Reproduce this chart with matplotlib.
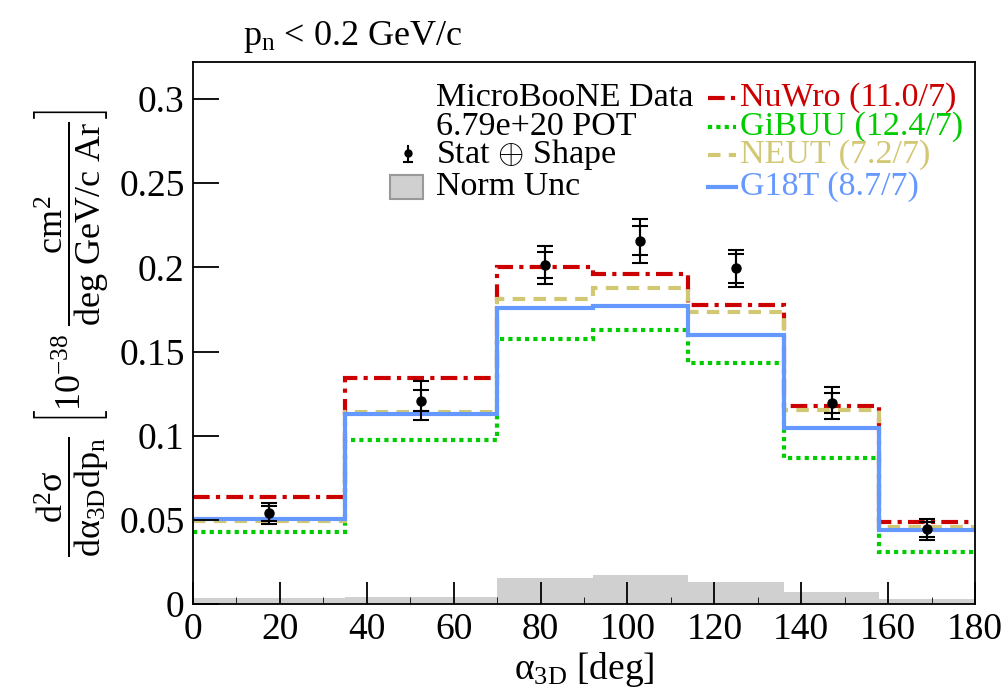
import numpy as np
import matplotlib
matplotlib.use('Agg')
import matplotlib.pyplot as plt
from matplotlib.patches import Rectangle

plt.rcParams['font.family'] = ['Liberation Serif', 'DejaVu Serif']
plt.rcParams['mathtext.fontset'] = 'custom'
plt.rcParams['mathtext.rm'] = 'Liberation Serif'
plt.rcParams['mathtext.it'] = 'Liberation Serif:italic'
plt.rcParams['mathtext.default'] = 'rm'

# bin edges in alpha_3D [deg]
edges = [0, 35, 70, 92, 114, 136, 158, 180]
centers = [17.5, 52.5, 81, 103, 125, 147, 169]

data = [0.0539, 0.1208, 0.2014, 0.2158, 0.1994, 0.1194, 0.0444]
err_total = [0.0063, 0.0115, 0.0111, 0.0130, 0.0109, 0.0095, 0.0064]
err_stat = [0.0045, 0.0061, 0.0075, 0.0086, 0.0084, 0.0060, 0.0045]
norm_unc = [0.0037, 0.0043, 0.0157, 0.0171, 0.0131, 0.0073, 0.0031]

nuwro = [0.0638, 0.1340, 0.2000, 0.1960, 0.1776, 0.1176, 0.0486]
gibuu = [0.0426, 0.0974, 0.1574, 0.1626, 0.1430, 0.0867, 0.0311]
neut = [0.0492, 0.1140, 0.1812, 0.1875, 0.1737, 0.1153, 0.0460]
g18t = [0.0505, 0.1129, 0.1760, 0.1768, 0.1598, 0.1046, 0.0440]

models = [
    ('NuWro (11.0/7)', nuwro, '#cc0000', (0, (4, 1.5, 1, 1.5))),
    ('GiBUU (12.4/7)', gibuu, '#00cc00', (0, (1, 1))),
    ('NEUT (7.2/7)', neut, '#d2c874', (0, (3, 2))),
    ('G18T (8.7/7)', g18t, '#6699ff', '-'),
]

fig = plt.figure(figsize=(10.07, 6.97), dpi=100)
ax = fig.add_axes([0.1917, 0.1334, 0.7765, 0.7776])

ax.stairs(norm_unc, edges, fill=True, color='#d0d0d0', lw=0)

for name, vals, col, ls in models:
    ax.stairs(vals, edges, color=col, lw=3, linestyle=ls, baseline=None)

ax.errorbar(centers, data, yerr=err_total, fmt='o', color='black', ms=6.5,
            elinewidth=1.5, capsize=6, capthick=1.5, zorder=5)
ax.errorbar(centers, data, yerr=err_stat, fmt='none', ecolor='black',
            elinewidth=1.5, capsize=6, capthick=1.5, zorder=5)

ax.set_xlim(0, 180)
ax.set_ylim(0, 0.322)
ax.set_xticks(np.arange(0, 181, 20))
ax.set_xticks(np.arange(0, 181, 10), minor=True)
ax.set_yticks([0, 0.05, 0.1, 0.15, 0.2, 0.25, 0.3])
ax.set_yticklabels(['0', '0.05', '0.1', '0.15', '0.2', '0.25', '0.3'])
ax.tick_params(axis='both', which='major', direction='in', labelsize=27,
               top=False, right=False, width=1.3)
ax.tick_params(axis='x', which='major', length=16, pad=6)
ax.tick_params(axis='y', which='major', length=19, pad=6)
ax.tick_params(axis='x', which='minor', direction='in', length=5, top=False)
for s in ax.spines.values():
    s.set_linewidth(1.3)

ax.set_xlabel(r'$\alpha_{3D}$ [deg]', fontsize=27, labelpad=2)
ax.set_ylabel(r'$\dfrac{\mathrm{d}^2\sigma}{\mathrm{d}\alpha_{3D}\mathrm{dp}_n}\ '
              r'\left[10^{-38}\ \dfrac{\mathrm{cm}^2}{\mathrm{deg\ GeV/c\ Ar}}\right]$',
              fontsize=26, labelpad=6)

fig.text(243 / 1007, 1 - 45 / 697, r'p$_n$ < 0.2 GeV/c', fontsize=26)

# legend, left column
leg_y = [98, 127, 155, 187]
lx = 436
fs = 24.5
fig.text(lx / 1007, 1 - leg_y[0] / 697, 'MicroBooNE Data', fontsize=fs, va='center')
fig.text(lx / 1007, 1 - leg_y[1] / 697, '6.79e+20 POT', fontsize=fs, va='center')
fig.text(lx / 1007, 1 - leg_y[2] / 697, r'Stat $\oplus$ Shape', fontsize=fs, va='center')
fig.text(lx / 1007, 1 - leg_y[3] / 697, 'Norm Unc', fontsize=fs, va='center')
fig.lines.append(plt.Line2D([408 / 1007], [1 - (leg_y[2] - 2) / 697], marker='o',
                            color='black', ms=5, transform=fig.transFigure))
fig.lines.append(plt.Line2D([408 / 1007, 408 / 1007], [1 - (leg_y[2] - 9) / 697, 1 - (leg_y[2] + 7) / 697],
                            color='black', lw=1.5, transform=fig.transFigure))
fig.lines.append(plt.Line2D([404 / 1007, 412 / 1007], [1 - (leg_y[2] + 7) / 697] * 2,
                            color='black', lw=1.5, transform=fig.transFigure))
fig.patches.append(Rectangle((390 / 1007, 1 - 199 / 697), 33 / 1007, 24 / 697,
                             facecolor='#d0d0d0', edgecolor='#999999', lw=1.5,
                             transform=fig.transFigure))

# legend, right column
for (name, vals, col, ls), yy in zip(models, leg_y):
    fig.lines.append(plt.Line2D([708 / 1007, 736 / 1007], [1 - yy / 697] * 2, color=col,
                                lw=3, linestyle=ls, transform=fig.transFigure))
    fig.text(740 / 1007, 1 - yy / 697, name, fontsize=fs, color=col, va='center')

fig.savefig('out.png', dpi=100)
